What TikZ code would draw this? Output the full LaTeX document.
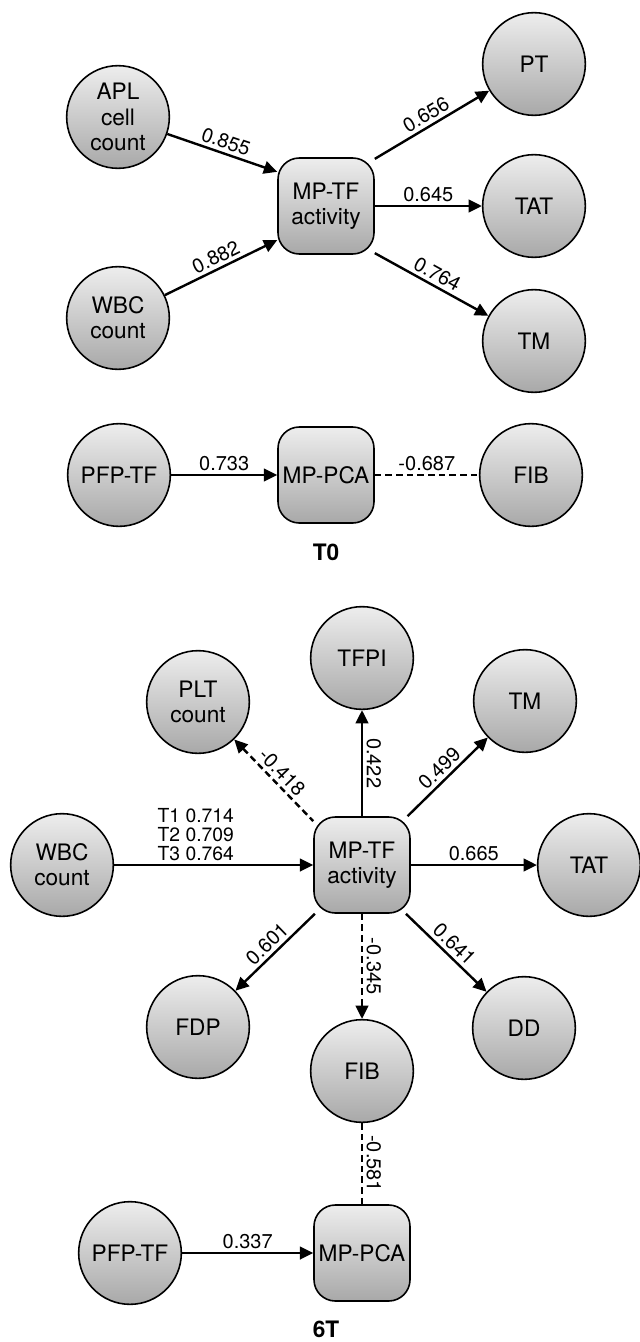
\documentclass[tikz,border=0pt]{standalone}
\usepackage{fontspec}
\setmainfont{TeX Gyre Heros}
\usetikzlibrary{arrows.meta}
\tikzset{
  ball/.style={circle, draw, line width=1.2pt, minimum size=77pt, inner sep=0pt,
    top color=black!7, bottom color=black!34, align=center, font=\fontsize{17}{19}\selectfont},
  box/.style={draw, rounded corners=16pt, line width=1.2pt, minimum width=72pt, minimum height=72pt,
    inner sep=0pt, top color=black!7, bottom color=black!34, align=center, font=\fontsize{17}{19}\selectfont},
  link/.style={line width=1.8pt},
  neg/.style={dash pattern=on 5pt off 3pt},
  wt/.style={font=\fontsize{15}{14}\selectfont, inner sep=2.5pt, sloped, above},
}
\begin{document}
\begin{tikzpicture}[x=0.75pt, y=-0.75pt, >={Triangle[length=10pt,width=9.5pt]}]
    \useasboundingbox (0,0) rectangle (639,1342);
    % T0 model
    \node[ball] (apl) at (118,117) {APL\\cell\\count};
    \node[ball] (wbc0) at (118,318) {WBC\\count};
    \node[box] (mptf0) at (326,206) {MP-TF\\activity};
    \foreach \n/\x/\y/\t in {pt/534/64/PT, tat0/534/206/TAT, tm0/534/341/TM, pfp0/119/475/PFP-TF, fib0/531/475/FIB}
        \node[ball] (\n) at (\x,\y) {\t};
    \node[box] (mppca0) at (326,475) {MP-PCA};
    \node[font=\bfseries\fontsize{17}{19}\selectfont] (t0) at (326,552) {T0};
    \draw[link, ->] (apl) -- node[wt] {0.855} (mptf0.145);
    \draw[link, ->] (wbc0) -- node[wt] {0.882} (mptf0.215);
    \draw[link, ->] (mptf0.44) -- node[wt] {0.656} (pt);
    \draw[link, ->] (mptf0) -- node[wt] {0.645} (tat0);
    \draw[link, ->] (mptf0.-44) -- node[wt] {0.764} (tm0);
    \draw[link, ->] (pfp0) -- node[wt] {0.733} (mppca0);
    \draw[link, neg] (mppca0) -- node[wt] {-0.687} (fib0);
    % 6T model
    \node[box] (mptf6) at (362,865) {MP-TF\\activity};
    \node[ball] (wbc6) at (62,865) {WBC\\count};
    \node[ball] (plt) at (198,702) {PLT\\count};
    \foreach \n/\x/\y/\t in {tfpi/362/658/TFPI, tm6/525/701/TM, tat6/589/865/TAT, fdp/198/1027/FDP, dd/524/1028/DD, fib6/362/1071/FIB, pfp6/130/1253/PFP-TF}
        \node[ball] (\n) at (\x,\y) {\t};
    \node[box] (mppca6) at (362,1253) {MP-PCA};
    \node[font=\bfseries\fontsize{17}{19}\selectfont] (t6) at (326,1329) {6T};
    \draw[link, ->] (wbc6) -- node[wt, pos=0.41, align=left, font=\fontsize{14.5}{14}\selectfont] {T1 0.714\\T2 0.709\\T3 0.764} (mptf6);
    \draw[link, neg, <-] (plt) -- node[wt] {-0.418} (mptf6.138);
    \draw[link, <-] (tfpi) -- node[wt] {0.422} (mptf6);
    \draw[link, ->] (mptf6.47) -- node[wt] {0.499} (tm6);
    \draw[link, ->] (mptf6) -- node[wt] {0.665} (tat6);
    \draw[link, <-] (fdp) -- node[wt] {0.601} (mptf6.226);
    \draw[link, ->] (mptf6.-48) -- node[wt] {0.641} (dd);
    \draw[link, neg, ->] (mptf6) -- node[wt] {-0.345} (fib6);
    \draw[link, neg] (fib6) -- node[wt] {-0.581} (mppca6);
    \draw[link, ->] (pfp6) -- node[wt] {0.337} (mppca6);
\end{tikzpicture}
\end{document}
